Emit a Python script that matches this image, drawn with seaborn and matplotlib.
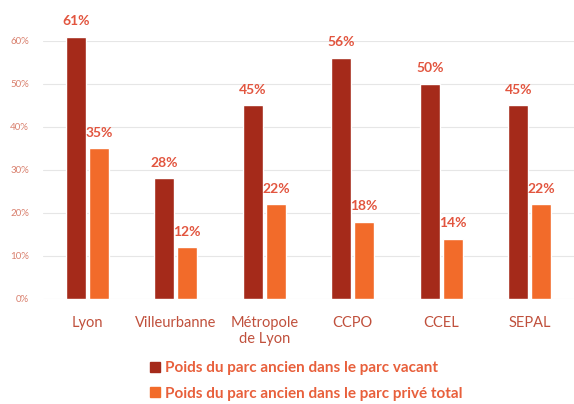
import pandas as pd
import matplotlib.pyplot as plt
import seaborn as sns
from matplotlib.patches import Patch
from matplotlib.ticker import PercentFormatter

territoires = ['Lyon', 'Villeurbanne', 'Métropole\nde Lyon', 'CCPO', 'CCEL', 'SEPAL']
part_vacant = [61, 28, 45, 56, 50, 45]
part_prive_total = [35, 12, 22, 18, 14, 22]
series = ['Poids du parc ancien dans le parc vacant',
          'Poids du parc ancien dans le parc privé total']
colors = ['#A52A1A', '#F26B2A']

df = pd.DataFrame({
    'territoire': territoires * 2,
    'serie': [series[0]] * 6 + [series[1]] * 6,
    'valeur': [v / 100 for v in part_vacant + part_prive_total],
})

sns.set_theme(style='white')
plt.rcParams['font.family'] = ['Lato', 'DejaVu Sans']

fig = plt.figure(figsize=(5.74, 4.04), dpi=100)
ax = fig.add_axes([0.075, 0.26, 0.925, 0.639])

sns.barplot(data=df, x='territoire', y='valeur', hue='serie', palette=colors,
            width=0.52, gap=0.12, ax=ax, legend=False, saturation=1)

for bar in ax.patches:
    bar.set_clip_on(False)

for container in ax.containers:
    labels = ax.bar_label(container,
                          labels=[f'{round(b.get_height() * 100)}%' for b in container],
                          padding=7, color='#E2553F', fontweight='bold', fontsize=10)
    for t in labels:
        t.set_clip_on(False)
        t.set_annotation_clip(False)

ax.set_ylim(0, 0.6)
ax.set_xlim(-0.5, 5.5)
ax.set_yticks([0, 0.1, 0.2, 0.3, 0.4, 0.5, 0.6])
ax.yaxis.set_major_formatter(PercentFormatter(1.0, decimals=0))
ax.grid(axis='y', color='#E6E6E6', linewidth=0.8)
ax.set_axisbelow(True)
for s in ax.spines.values():
    s.set_visible(False)
ax.set_xlabel('')
ax.set_ylabel('')
ax.tick_params(axis='y', labelsize=7, labelcolor='#D9806E', length=0, pad=10)
ax.tick_params(axis='x', labelsize=10.5, labelcolor='#C0503C', length=0, pad=12)

handles = [Patch(color=c) for c in colors]
leg = fig.legend(handles, series, loc='upper left', bbox_to_anchor=(0.238, 0.14),
                 frameon=False, handlelength=0.6, handleheight=0.6, handletextpad=0.35,
                 labelspacing=0.75, prop={'weight': 'bold', 'size': 11})
for t in leg.get_texts():
    t.set_color('#E8603C')

fig.savefig('out.png', dpi=100)
